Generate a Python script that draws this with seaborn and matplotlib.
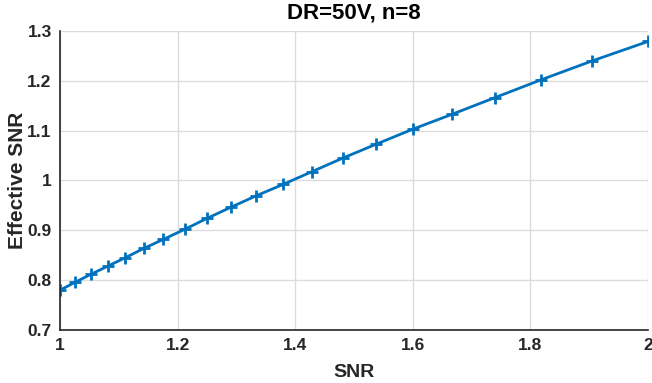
import matplotlib
matplotlib.use("Agg")
import matplotlib.pyplot as plt
import seaborn as sns
import pandas as pd

snr = [1.000, 1.026, 1.053, 1.081, 1.111, 1.143, 1.176, 1.212, 1.250, 1.290,
       1.333, 1.379, 1.429, 1.481, 1.538, 1.600, 1.667, 1.739, 1.818, 1.905, 2.000]
eff_snr = [0.780, 0.796, 0.812, 0.828, 0.845, 0.864, 0.882, 0.902, 0.924, 0.946,
           0.969, 0.992, 1.018, 1.045, 1.073, 1.103, 1.133, 1.166, 1.202, 1.240, 1.279]
xticks = [1, 1.2, 1.4, 1.6, 1.8, 2]
xtick_labels = ["1", "1.2", "1.4", "1.6", "1.8", "2"]
yticks = [0.7, 0.8, 0.9, 1.0, 1.1, 1.2, 1.3]
ytick_labels = ["0.7", "0.8", "0.9", "1", "1.1", "1.2", "1.3"]

df = pd.DataFrame({"SNR": snr, "Effective SNR": eff_snr})

sns.set_style("white")
plt.rcParams["font.family"] = ["Liberation Sans", "DejaVu Sans"]
plt.rcParams["font.weight"] = "bold"

fig = plt.figure(figsize=(6.52, 3.83), dpi=100)
ax = fig.add_axes([60 / 652, 53 / 383, 588 / 652, 299 / 383])

sns.lineplot(data=df, x="SNR", y="Effective SNR", ax=ax, color="#0072BD",
             linewidth=2, marker="+", markersize=9, markeredgewidth=2,
             markeredgecolor="#0072BD")

ax.set_xlim(1, 2)
ax.set_ylim(0.7, 1.3)
ax.set_xticks(xticks)
ax.set_xticklabels(xtick_labels)
ax.set_yticks(yticks)
ax.set_yticklabels(ytick_labels)
ax.grid(True, color="#dcdcdc", linewidth=1)
ax.tick_params(axis="both", labelsize=12.5, colors="#262626", direction="in",
               length=5, width=1.2, pad=6)
for lab in ax.get_xticklabels() + ax.get_yticklabels():
    lab.set_fontweight("bold")
sns.despine(ax=ax)
ax.spines["left"].set_color("#262626")
ax.spines["bottom"].set_color("#262626")
ax.spines["left"].set_linewidth(1.2)
ax.spines["bottom"].set_linewidth(1.2)

ax.set_xlabel("SNR", fontsize=14, fontweight="bold", color="#262626", labelpad=8)
ax.set_ylabel("Effective SNR", fontsize=15, fontweight="bold", color="#262626")
ax.yaxis.set_label_coords(-0.056, 0.5)
ax.set_title("DR=50V, n=8", fontsize=16, fontweight="bold", color="#000000", pad=9)

fig.savefig("out.png", dpi=100)
